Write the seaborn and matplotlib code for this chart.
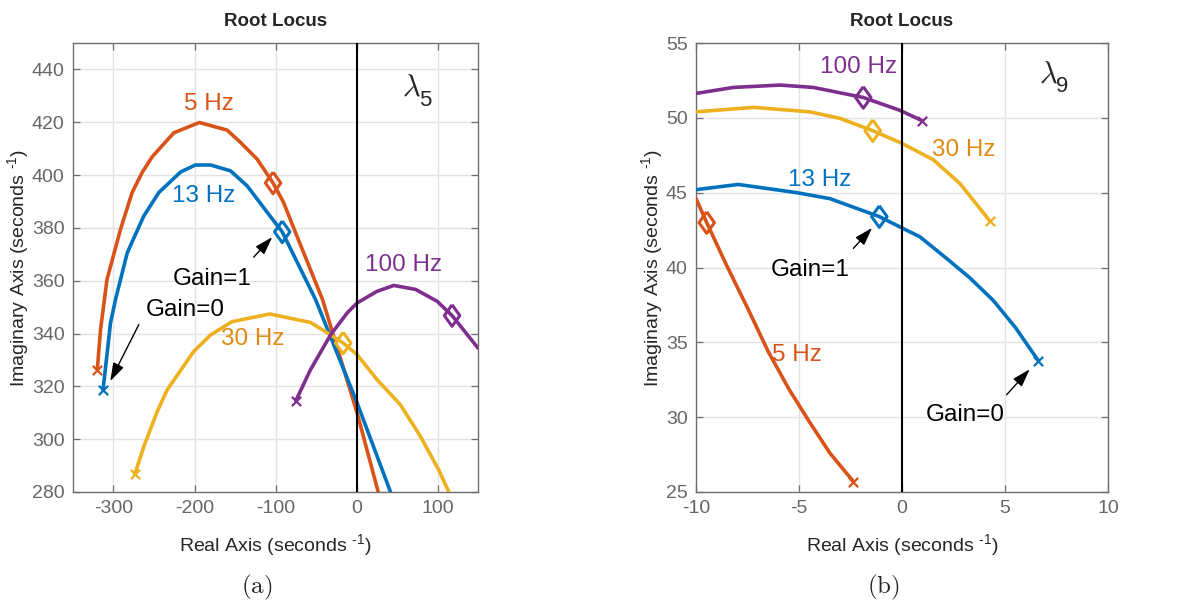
import numpy as np
import pandas as pd
import matplotlib
matplotlib.use("Agg")
import matplotlib.pyplot as plt
import seaborn as sns

# ---------------- data ----------------
# Panel (a): lambda_5
a5_x = [-320, -316, -308, -291.4, -277, -264.6, -252, -225.5, -194, -159.6, -143, -122.6, -103, -90, -77.6, -42, 0.8, 26.8]
a5_y = [326.3, 341.5, 360.5, 379.4, 393.4, 401, 407, 416, 419.9, 417, 412.3, 406, 397, 389.6, 380, 352.9, 309.9, 280]
a13_x = [-313, -303.7, -297.5, -283, -262.6, -244, -217, -199, -180, -155.6, -135, -110, -91.7, -50.6, 0.8, 42]
a13_y = [318.5, 344, 352.9, 370.6, 384.5, 393.4, 401.2, 403.8, 403.8, 401.6, 395.9, 385.8, 378.5, 352.9, 313.7, 280]
a30_x = [-273.7, -262.6, -246, -233.7, -201, -180, -153.5, -107, -56.8, -32, -16.5, 0.8, 25.5, 54.3, 79, 101.6, 114]
a30_y = [286.7, 297.2, 310.5, 318.7, 333.2, 339.5, 344.5, 347.4, 344.2, 339.5, 336.4, 332, 322.5, 313, 301, 288.3, 280]
a100_x = [-75, -56.8, -32, -11.5, 0.8, 25.5, 46, 73, 99.6, 118, 150]
a100_y = [314.5, 326.3, 339.5, 347.8, 351.6, 356, 358.2, 356.7, 352.2, 346.8, 334.5]
a_diam_x = [-103, -91.7, -16.5, 118]
a_diam_y = [397, 378.5, 336.4, 346.8]
a_start_x = [-320, -313, -273.7, -75]
a_start_y = [326.3, 318.5, 286.7, 314.5]

# Panel (b): lambda_9
b5_x = [-10, -9.48, -8.5, -7.5, -6.5, -5.5, -4.5, -3.5, -2.36]
b5_y = [44.6, 43.0, 40.1, 37.3, 34.4, 31.9, 29.7, 27.6, 25.7]
b13_x = [-10, -7.95, -5.11, -3.5, -1.1, -0.01, 0.87, 2.17, 3.3, 4.43, 5.5, 6.62]
b13_y = [45.2, 45.55, 45.0, 44.6, 43.4, 42.65, 42.05, 40.6, 39.3, 37.8, 36.0, 33.77]
b30_x = [-10, -7.2, -4.47, -3.0, -1.42, -0.01, 1.52, 2.82, 4.27]
b30_y = [50.4, 50.7, 50.4, 49.96, 49.14, 48.3, 47.2, 45.6, 43.1]
b100_x = [-10, -8.19, -5.92, -4.3, -3.0, -1.88, -0.1, 0.99]
b100_y = [51.63, 52.03, 52.19, 52.03, 51.67, 51.36, 50.5, 49.8]
b_diam_x = [-9.48, -1.1, -1.42, -1.88]
b_diam_y = [43.0, 43.4, 49.14, 51.36]
b_end_x = [-2.36, 6.62, 4.27, 0.99]
b_end_y = [25.7, 33.77, 43.1, 49.8]

series_names = ["5 Hz", "13 Hz", "30 Hz", "100 Hz"]
colors = ["#D95319", "#0072BD", "#EDB120", "#7E2F8E"]
label_colors = ["#D95319", "#0072BD", "#E08A12", "#7E2F8E"]

# ---------------- style ----------------
sns.set_style("ticks")
plt.rcParams["font.family"] = ["Liberation Sans", "DejaVu Sans"]
plt.rcParams["mathtext.fontset"] = "cm"
plt.rcParams["mathtext.rm"] = "Liberation Sans"
plt.rcParams["axes.unicode_minus"] = False

fig = plt.figure(figsize=(11.89, 6.04), dpi=100)
axA = fig.add_axes([73 / 1189, 112 / 604, 405 / 1189, 449 / 604])
axB = fig.add_axes([696 / 1189, 112 / 604, 412 / 1189, 449 / 604])

tick_gray = "#666666"
spine_gray = "#6e6e6e"
arrow_kw = dict(arrowstyle="-|>,head_length=1.1,head_width=0.35", color="black", lw=1.0,
                shrinkA=0, shrinkB=0)
diamond = [(0, 1), (0.72, 0), (0, -1), (-0.72, 0), (0, 1)]


def add_axis_label(ax, which, text):
    lab = text + r" (seconds $^{\text{-1}}$)"
    if which == "x":
        ax.set_xlabel(lab, fontsize=14, labelpad=11, math_fontfamily="custom")
    else:
        ax.set_ylabel(lab, fontsize=14, labelpad=0, math_fontfamily="custom")


def style_axes(ax, xlim, ylim, xticks, yticks):
    ax.set_xlim(*xlim)
    ax.set_ylim(*ylim)
    ax.set_xticks(xticks)
    ax.set_yticks(yticks)
    ax.grid(True, color="#e3e3e3", linewidth=1.0)
    ax.set_axisbelow(True)
    for s in ax.spines.values():
        s.set_visible(True)
        s.set_color(spine_gray)
        s.set_linewidth(1.0)
    ax.tick_params(direction="in", top=True, right=True, length=5, width=0.9,
                   color=spine_gray, labelcolor=tick_gray, labelsize=14, pad=6)
    ax.axvline(0, color="black", linewidth=1.5, zorder=3.5)
    ax.set_title("Root Locus", fontsize=13.5, fontweight="bold", pad=12)
    add_axis_label(ax, "x", "Real Axis")
    add_axis_label(ax, "y", "Imaginary Axis")


def draw_series(ax, xs, ys):
    for x, y, c in zip(xs, ys, colors):
        df = pd.DataFrame({"x": x, "y": y})
        sns.lineplot(data=df, x="x", y="y", sort=False, estimator=None,
                     color=c, linewidth=2.6, ax=ax, zorder=3)


def draw_markers(ax, dx, dy, sx, sy):
    for i, c in enumerate(colors):
        sns.scatterplot(x=[dx[i]], y=[dy[i]], marker=diamond, s=240,
                        facecolors="none", edgecolor=c, linewidth=2.2, ax=ax, zorder=4)
        sns.scatterplot(x=[sx[i]], y=[sy[i]], marker="x", s=45,
                        color=c, linewidth=1.6, ax=ax, zorder=4)


def lam(ax, x, y, sub):
    ax.text(x, y, r"$\lambda$", fontsize=22, ha="center", va="center")
    ax.annotate(sub, xy=(x, y), xytext=(10, -9), textcoords="offset points",
                fontsize=16, ha="center", va="center")


# ---------------- panel (a) ----------------
style_axes(axA, (-350, 150), (280, 450), [-300, -200, -100, 0, 100],
           [280, 300, 320, 340, 360, 380, 400, 420, 440])
draw_series(axA, [a5_x, a13_x, a30_x, a100_x], [a5_y, a13_y, a30_y, a100_y])
draw_markers(axA, a_diam_x, a_diam_y, a_start_x, a_start_y)

axA.text(-182, 427, "5 Hz", color=label_colors[0], fontsize=17.5, ha="center", va="center")
axA.text(-189, 392, "13 Hz", color=label_colors[1], fontsize=17.5, ha="center", va="center")
axA.text(-128, 338, "30 Hz", color=label_colors[2], fontsize=17.5, ha="center", va="center")
axA.text(58, 366, "100 Hz", color=label_colors[3], fontsize=17.5, ha="center", va="center")
axA.text(-178, 360.5, "Gain=1", color="black", fontsize=17.5, ha="center", va="center")
axA.text(-211, 349, "Gain=0", color="black", fontsize=17.5, ha="center", va="center")
axA.annotate("", xy=(-104, 376.5), xytext=(-127, 368.9), arrowprops=arrow_kw)
axA.annotate("", xy=(-304, 322), xytext=(-268.7, 343.4), arrowprops=arrow_kw)
lam(axA, 68, 433, "5")
fig.text(257 / 1189, 1 - 587 / 604, r"$\mathrm{(a)}$", fontsize=18, ha="center", va="center")

# ---------------- panel (b) ----------------
style_axes(axB, (-10, 10), (25, 55), [-10, -5, 0, 5, 10], [25, 30, 35, 40, 45, 50, 55])
draw_series(axB, [b5_x, b13_x, b30_x, b100_x], [b5_y, b13_y, b30_y, b100_y])
draw_markers(axB, b_diam_x, b_diam_y, b_end_x, b_end_y)

axB.text(-5.1, 34.15, "5 Hz", color=label_colors[0], fontsize=17.5, ha="center", va="center")
axB.text(-3.98, 45.84, "13 Hz", color=label_colors[1], fontsize=17.5, ha="center", va="center")
axB.text(3.02, 47.85, "30 Hz", color=label_colors[2], fontsize=17.5, ha="center", va="center")
axB.text(-2.12, 53.4, "100 Hz", color=label_colors[3], fontsize=17.5, ha="center", va="center")
axB.text(-4.47, 39.83, "Gain=1", color="black", fontsize=17.5, ha="center", va="center")
axB.text(3.06, 30.14, "Gain=0", color="black", fontsize=17.5, ha="center", va="center")
axB.annotate("", xy=(-1.45, 42.65), xytext=(-2.36, 41.28), arrowprops=arrow_kw)
axB.annotate("", xy=(6.2, 33.2), xytext=(5.08, 31.5), arrowprops=arrow_kw)
lam(axB, 7.1, 52.9, "9")
fig.text(883 / 1189, 1 - 587 / 604, r"$\mathrm{(b)}$", fontsize=18, ha="center", va="center")

for ax in (axA, axB):
    leg = ax.get_legend()
    if leg is not None:
        leg.remove()

fig.savefig("out.png", dpi=100)
